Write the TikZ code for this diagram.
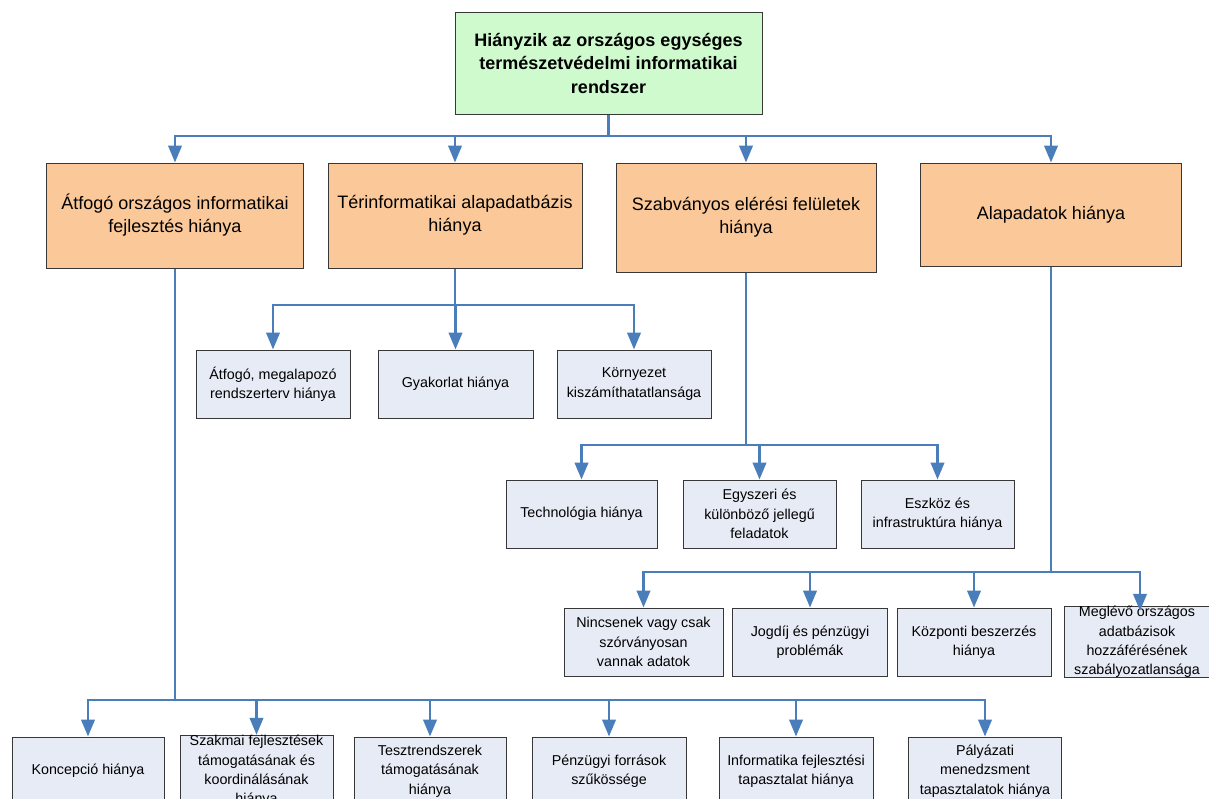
\documentclass[tikz,border=0pt]{standalone}
\usepackage{fontspec}
\setmainfont{Liberation Sans}
\usetikzlibrary{arrows.meta}

\definecolor{linkblue}{RGB}{74,126,187}
\definecolor{rootfill}{RGB}{206,250,206}
\definecolor{causefill}{RGB}{251,201,153}
\definecolor{leaffill}{RGB}{231,235,246}
\definecolor{edgegray}{RGB}{55,55,55}

\tikzset{
  box/.style={draw=edgegray, line width=1pt, align=center, inner sep=0pt,
              anchor=center},
  rootbox/.style={box, fill=rootfill,
                  font=\fontsize{18}{23.5}\selectfont\bfseries},
  causebox/.style={box, fill=causefill, font=\fontsize{18}{23}\selectfont},
  leafbox/.style={box, fill=leaffill, font=\fontsize{14.3}{19.3}\selectfont},
  link/.style={draw=linkblue, line width=2.6pt},
  arrowlink/.style={link, -{Triangle[length=17pt,width=13.5pt]}},
}

\begin{document}
\begin{tikzpicture}[x=1pt, y=-1pt]
  \useasboundingbox (0,0) rectangle (1209,798);
  \fill[white] (0,0) rectangle (1209,798);

  % root problem
  \node[rootbox, minimum width=307pt, minimum height=102pt] (root) at (608.5,63)
    {Hiányzik az országos egységes\\természetvédelmi informatikai\\rendszer};

  % main causes
  \node[causebox, minimum width=257pt, minimum height=105pt] (c1) at (175,215.5)
    {Átfogó országos informatikai\\fejlesztés hiánya};
  \node[causebox, minimum width=254pt, minimum height=105pt] (c2) at (455,215.5)
    {Térinformatikai alapadatbázis\\hiánya};
  \node[causebox, minimum width=260pt, minimum height=109pt] (c3) at (746,217.5)
    {Szabványos elérési felületek\\hiánya};
  \node[causebox, minimum width=261pt, minimum height=103pt] (c4) at (1051,214.5)
    {Alapadatok hiánya};

  % sub-causes of the spatial database
  \node[leafbox, minimum width=154pt, minimum height=68pt] (s1) at (273,384)
    {Átfogó, megalapozó\\rendszerterv hiánya};
  \node[leafbox, minimum width=155pt, minimum height=68pt] (s2) at (455.5,384)
    {Gyakorlat hiánya};
  \node[leafbox, minimum width=154pt, minimum height=68pt] (s3) at (634,384)
    {Környezet\\kiszámíthatatlansága};

  % sub-causes of the access interfaces
  \node[leafbox, minimum width=151pt, minimum height=68pt] (i1) at (581.5,514)
    {Technológia hiánya};
  \node[leafbox, minimum width=153pt, minimum height=68pt] (i2) at (759.5,514)
    {Egyszeri és\\különböző jellegű\\feladatok};
  \node[leafbox, minimum width=153pt, minimum height=68pt] (i3) at (937.5,514)
    {Eszköz és\\infrastruktúra hiánya};

  % sub-causes of the base data
  \node[leafbox, minimum width=159pt, minimum height=68pt] (d1) at (643.5,642)
    {Nincsenek vagy csak\\szórványosan\\vannak adatok};
  \node[leafbox, minimum width=155pt, minimum height=68pt] (d2) at (810,642)
    {Jogdíj és pénzügyi\\problémák};
  \node[leafbox, minimum width=154pt, minimum height=68pt] (d3) at (974,642)
    {Központi beszerzés\\hiánya};
  \node[leafbox, minimum width=145pt, minimum height=58pt] (d4) at (1137,642)
    {Meglévő országos\\adatbázisok\\hozzáférésének\\szabályozatlansága};

  % sub-causes of the national IT development
  \node[leafbox, minimum width=152pt, minimum height=68pt] (f1) at (88,771)
    {Koncepció hiánya};
  \node[leafbox, minimum width=153pt, minimum height=68pt] (f2) at (256.5,771)
    {Szakmai fejlesztések\\támogatásának és\\koordinálásának\\hiánya};
  \node[leafbox, minimum width=152pt, minimum height=68pt] (f3) at (430,771)
    {Tesztrendszerek\\támogatásának\\hiánya};
  \node[leafbox, minimum width=154pt, minimum height=68pt] (f4) at (609,771)
    {Pénzügyi források\\szűkössége};
  \node[leafbox, minimum width=154pt, minimum height=68pt] (f5) at (796,771)
    {Informatika fejlesztési\\tapasztalat hiánya};
  \node[leafbox, minimum width=153pt, minimum height=68pt] (f6) at (985,771)
    {Pályázati\\menedzsment\\tapasztalatok hiánya};

  % junction points on the horizontal buses
  \coordinate (j0) at (608.5,136);
  \coordinate (j1) at (175,700);
  \coordinate (j2) at (455,305);
  \coordinate (j3) at (746,445);
  \coordinate (j4) at (1051,572);

  % root to main causes
  \draw[link] (root.south) -- (j0);
  \foreach \n in {c1,c2,c3,c4} \draw[arrowlink] (j0) -| (\n.north);

  % spatial database branch
  \draw[link] (c2.south) -- (j2);
  \foreach \n in {s1,s2,s3} \draw[arrowlink] (j2) -| (\n.north);

  % access interface branch
  \draw[link] (c3.south) -- (j3);
  \foreach \n in {i1,i2,i3} \draw[arrowlink] (j3) -| (\n.north);

  % base data branch
  \draw[link] (c4.south) -- (j4);
  \foreach \n in {d1,d2,d3} \draw[arrowlink] (j4) -| (\n.north);
  \draw[arrowlink] (j4) -| ([xshift=3pt,yshift=-5pt]d4.north);

  % national IT development branch
  \draw[link] (c1.south) -- (j1);
  \foreach \n in {f1,f2,f3,f4,f5,f6} \draw[arrowlink] (j1) -| (\n.north);
\end{tikzpicture}
\end{document}
